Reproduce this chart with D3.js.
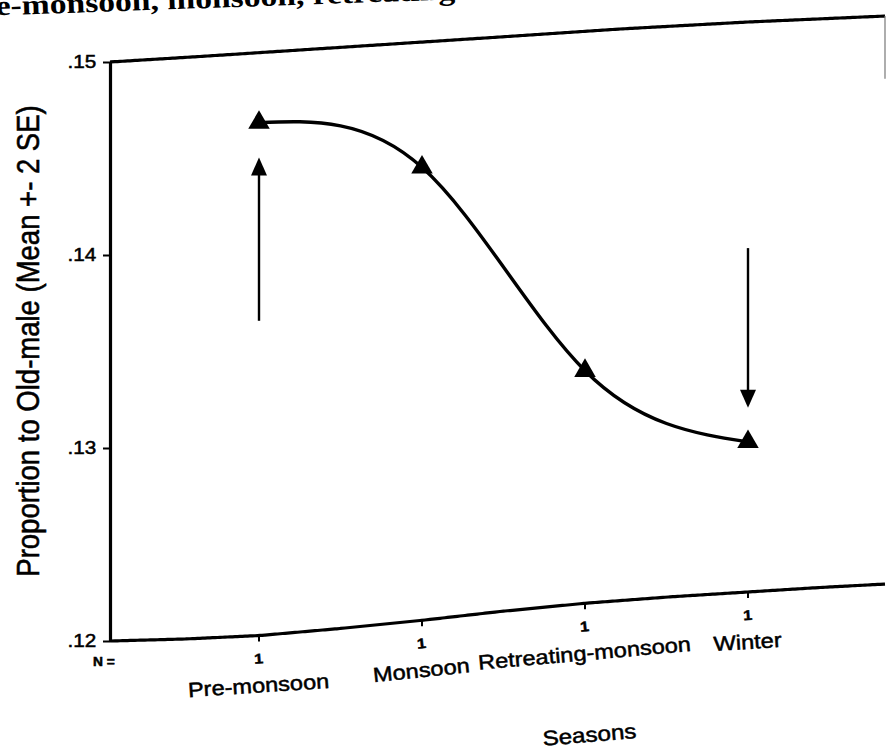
<!DOCTYPE html>
<html>
<head>
<meta charset="utf-8">
<script src="https://cdn.jsdelivr.net/npm/d3@7"></script>
<style>
  body { margin: 0; background: #fff; }
  svg { display: block; }
</style>
</head>
<body>
<svg id="chart" width="886" height="752"></svg>
<script>
// ---- data ----
const seasons = ["Pre-monsoon", "Monsoon", "Retreating-monsoon", "Winter"];
const counts = [1, 1, 1, 1];
const meanProportion = [0.1464, 0.1435, 0.1322, 0.1279];
const yTickValues = [0.12, 0.13, 0.14, 0.15];
const yTickLabels = [".12", ".13", ".14", ".15"];
// hand-drawn arrows: season, tail value, head value
const arrowSeasons = ["Pre-monsoon", "Winter"];
const arrowFrom = [0.1362, 0.1381];
const arrowTo = [0.1446, 0.1297];

const captionText = "pre-monsoon, monsoon, retreating-monsoon and winter";
const yTitle = "Proportion to Old-male (Mean +- 2 SE)";
const xTitle = "Seasons";

// ---- layout ----
const svg = d3.select("#chart");
const frame = { left: 110, right: 885, top: 62, bottom: 641 };
const x = d3.scalePoint().domain(seasons).range([frame.left + 149, frame.right - 137]);
const y = d3.scaleLinear().domain([0.12, 0.15]).range([frame.bottom, frame.top]);

// The printed sheet is bent: the top and bottom edges of the frame rise
// as they run to the right. bend() maps flat chart coordinates onto the sheet.
const topLift = d3.scaleLinear()
  .domain([110, 200, 300, 400, 500, 620, 748, 886])
  .range([0, -5.5, -12, -18.5, -25, -33, -40, -46]).clamp(true);
const bottomLift = d3.scaleLinear()
  .domain([110, 185, 260, 340, 425, 500, 588, 668, 748, 820, 886])
  .range([0, -2, -5.5, -12.5, -21, -29.5, -38, -44, -49, -53.5, -57]).clamp(true);
function bend(px, py) {
  const f = Math.max(0, Math.min(1, (py - frame.top) / (frame.bottom - frame.top)));
  return [px, py + topLift(px) * (1 - f) + bottomLift(px) * f];
}
function tilt(px, py) {
  const a = bend(px - 10, py), b = bend(px + 10, py);
  return Math.atan2(b[1] - a[1], 20) * 180 / Math.PI;
}
const STRETCH = 1.15;   // glyphs on the sheet are slightly wide
const sans = "'Liberation Sans', Arial, sans-serif";
const ink = "#000";

function sheetText(px, py, txt, size, weight, anchor) {
  const [wx, wy] = bend(px, py);
  return svg.append("text")
    .attr("transform", `translate(${wx},${wy}) rotate(${tilt(px, py)}) scale(${STRETCH},1)`)
    .attr("text-anchor", anchor || "middle")
    .attr("font-family", sans)
    .attr("font-size", size)
    .attr("font-weight", weight || "normal")
    .attr("fill", ink)
    .attr("stroke", ink).attr("stroke-width", 0.5)
    .text(txt);
}

// ---- caption line from the page above, running off the top edge ----
svg.append("text")
  .attr("transform", `translate(-37,16.5) rotate(-2.0) scale(1.2,1)`)
  .attr("font-family", "'Liberation Serif', 'Times New Roman', serif")
  .attr("font-size", 28)
  .attr("font-weight", "bold")
  .attr("fill", ink)
  .text(captionText);

// ---- frame ----
const edgeLine = d3.line().curve(d3.curveBasis);
const edgeXs = d3.range(frame.left, frame.right, 5).concat([frame.right]);
svg.append("path")
  .attr("d", edgeLine(edgeXs.map(px => bend(px, frame.top))))
  .attr("fill", "none").attr("stroke", ink).attr("stroke-width", 3.2);
svg.append("path")
  .attr("d", edgeLine(edgeXs.map(px => bend(px, frame.bottom))))
  .attr("fill", "none").attr("stroke", ink).attr("stroke-width", 3.2);
// faint right edge, only its upper part printed
const rTop = bend(frame.right, frame.top), rLow = bend(frame.right, frame.top + 64);
svg.append("line")
  .attr("x1", rTop[0]).attr("y1", rTop[1]).attr("x2", rLow[0]).attr("y2", rLow[1])
  .attr("stroke", "#777").attr("stroke-width", 1.2);

// ---- y axis ----
const yAxis = svg.append("g")
  .attr("transform", `translate(${frame.left},0)`)
  .call(d3.axisLeft(y).tickValues(yTickValues)
    .tickFormat((d, i) => yTickLabels[i]).tickSize(7).tickPadding(5).tickSizeOuter(0));
yAxis.select(".domain").attr("stroke", ink).attr("stroke-width", 3.2);
yAxis.selectAll(".tick line").attr("stroke", ink).attr("stroke-width", 2);
yAxis.selectAll(".tick text")
  .attr("font-family", sans).attr("font-size", 18).attr("fill", ink)
  .attr("stroke", ink).attr("stroke-width", 0.5)
  .attr("transform", `scale(${STRETCH},1)`);

svg.append("text")
  .attr("transform", `translate(39,341) scale(${STRETCH},1) rotate(-90)`)
  .attr("text-anchor", "middle")
  .attr("font-family", sans).attr("font-size", 27.5).attr("fill", ink)
  .attr("stroke", ink).attr("stroke-width", 0.5)
  .text(yTitle);

// ---- x axis: ticks, counts, category names ----
seasons.forEach((s, i) => {
  const a = bend(x(s), frame.bottom), b = bend(x(s), frame.bottom + 6);
  svg.append("line")
    .attr("x1", a[0]).attr("y1", a[1]).attr("x2", b[0]).attr("y2", b[1])
    .attr("stroke", ink).attr("stroke-width", 2);
  sheetText(x(s), frame.bottom + 28, String(counts[i]), 14, "bold");
  sheetText(x(s), frame.bottom + 57, s, 20.5);
});
sheetText(93, frame.bottom + 25, "N =", 12, "bold", "start");
sheetText(590, frame.bottom + 139, xTitle, 21);

// ---- mean line and markers ----
const pts = seasons.map((s, i) => bend(x(s), y(meanProportion[i])));
svg.append("path")
  .attr("d", d3.line().curve(d3.curveNatural)(pts))
  .attr("fill", "none").attr("stroke", ink).attr("stroke-width", 3.4)
  .attr("stroke-linejoin", "round");
svg.selectAll(".marker").data(pts).join("path")
  .attr("class", "marker")
  .attr("transform", d => `translate(${d[0]},${d[1]})`)
  .attr("d", d3.symbol(d3.symbolTriangle, 200)())
  .attr("fill", ink);

// ---- arrows ----
arrowSeasons.forEach((s, i) => {
  const px = x(s);
  const tail = bend(px, y(arrowFrom[i]));
  const tip = bend(px, y(arrowTo[i]));
  const dir = Math.sign(tip[1] - tail[1]);
  const headLen = 18, headHalf = 8;
  const baseY = tip[1] - dir * headLen;
  svg.append("line")
    .attr("x1", tail[0]).attr("y1", tail[1]).attr("x2", tip[0]).attr("y2", baseY + dir)
    .attr("stroke", ink).attr("stroke-width", 2.4);
  svg.append("path")
    .attr("d", `M${tip[0]},${tip[1]}L${tip[0] - headHalf},${baseY}L${tip[0] + headHalf},${baseY}Z`)
    .attr("fill", ink);
});
</script>
</body>
</html>
